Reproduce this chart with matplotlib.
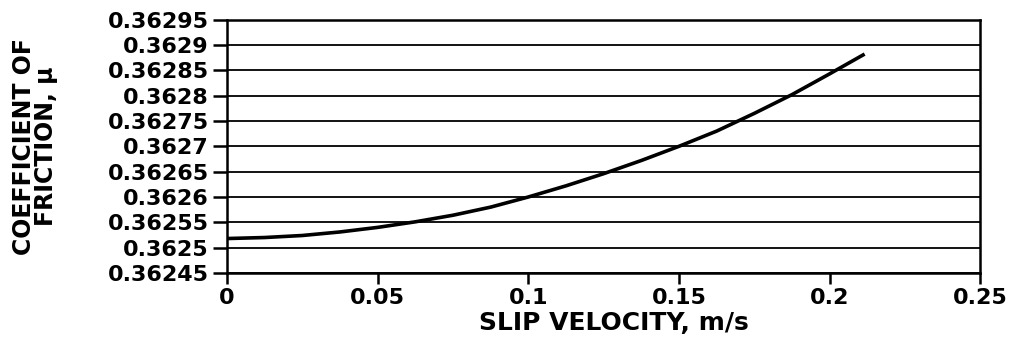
import numpy as np
import matplotlib.pyplot as plt

# values
slip_velocity = [0.0, 0.0125, 0.025, 0.0375, 0.05, 0.0625, 0.075, 0.0875, 0.1, 0.1125,
                 0.125, 0.1375, 0.15, 0.1625, 0.175, 0.1875, 0.2, 0.2116]
friction = [0.362518, 0.362520, 0.362524, 0.362531, 0.36254, 0.362551, 0.362564,
            0.36258, 0.3626, 0.362622, 0.362646, 0.362672, 0.3627, 0.36273,
            0.362765, 0.362802, 0.362843, 0.362882]

y_ticks = [0.36245, 0.3625, 0.36255, 0.3626, 0.36265, 0.3627, 0.36275, 0.3628,
           0.36285, 0.3629, 0.36295]
x_ticks = [0, 0.05, 0.1, 0.15, 0.2, 0.25]

plt.rcParams['font.family'] = ['DejaVu Sans']
plt.rcParams['font.weight'] = 'bold'

fig = plt.figure(figsize=(10.18, 3.5), dpi=100)
ax = fig.add_axes([0.223, 0.22, 0.740, 0.724])

ax.plot(slip_velocity, friction, color="black", linewidth=2.6,
        solid_capstyle='butt', solid_joinstyle='round')

ax.set_xlim(0, 0.25)
ax.set_ylim(0.36245, 0.36295)
ax.set_xticks(x_ticks)
ax.set_xticklabels(["%g" % v for v in x_ticks])
ax.set_yticks(y_ticks)
ax.set_yticklabels(["%g" % v for v in y_ticks])
ax.yaxis.grid(True, color="black", linewidth=1.3)
ax.set_axisbelow(True)

for s in ax.spines.values():
    s.set_linewidth(1.8)
ax.tick_params(axis='both', direction='out', width=1.8, labelsize=16)
ax.tick_params(axis='x', length=8, pad=3)
ax.tick_params(axis='y', length=10, pad=3)

ax.set_xlabel('SLIP VELOCITY, m/s', fontsize=18, fontweight='bold')
ax.xaxis.set_label_coords(0.513, -0.15)
ax.set_ylabel('COEFFICIENT OF\nFRICTION, μ', fontsize=17, fontweight='bold',
              linespacing=0.9)
ax.yaxis.set_label_coords(-0.224, 0.5)

plt.savefig('out.png', dpi=100)
